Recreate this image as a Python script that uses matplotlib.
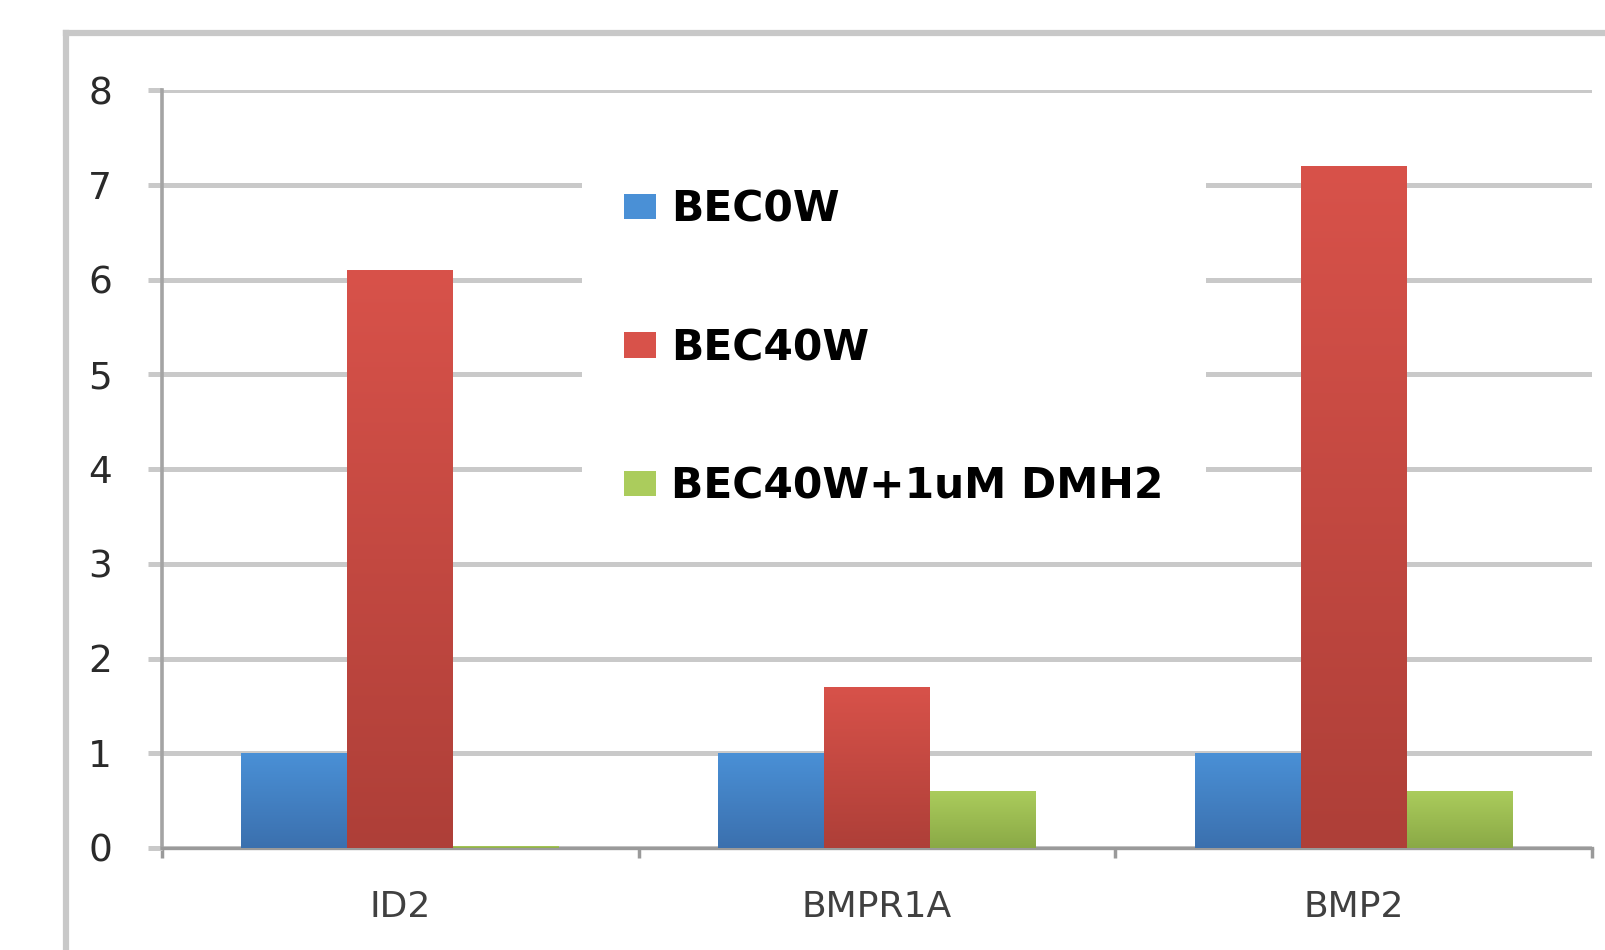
import numpy as np
import matplotlib.pyplot as plt
from matplotlib.lines import Line2D

genes = ['ID2', 'BMPR1A', 'BMP2']
series = ['BEC0W', 'BEC40W', 'BEC40W+1uM DMH2']
bec0w = [1.0, 1.0, 1.0]
bec40w = [6.1, 1.7, 7.2]
bec40w_dmh2 = [0.02, 0.6, 0.6]
yticks = [0, 1, 2, 3, 4, 5, 6, 7, 8]

# (top colour, bottom colour) for the vertical fill of each series
shades = [('#4a90d6', '#3b70ae'),
          ('#d8524a', '#ae3f38'),
          ('#abcc5c', '#8aa946')]

fig = plt.figure(figsize=(16.05, 9.5), dpi=100)
ax = fig.add_axes([162 / 1605, 102 / 950, 1430 / 1605, 758 / 950])

x = np.arange(len(genes)) + 0.5
w = 1 / 4.5
containers = []
for i, (vals, name) in enumerate(zip([bec0w, bec40w, bec40w_dmh2], series)):
    bars = ax.bar(x + (i - 1) * w, vals, w, color=shades[i][0], label=name,
                  linewidth=0, zorder=3)
    containers.append(bars)
    grad = np.linspace(0, 1, 256).reshape(-1, 1)
    cmap = plt.matplotlib.colors.LinearSegmentedColormap.from_list(
        'g%d' % i, [shades[i][1], shades[i][0]])
    for b in bars:
        im = ax.imshow(grad, cmap=cmap, aspect='auto', origin='lower',
                       extent=[b.get_x(), b.get_x() + b.get_width(), 0, b.get_height()],
                       zorder=3.5)
        im.set_clip_path(b)

ax.set_xlim(0, 3)
ax.set_ylim(0, 8)
ax.set_aspect('auto')

ax.set_yticks(yticks)
ax.set_yticklabels([str(v) for v in yticks])
ax.yaxis.grid(True, color='#c9c9c9', linewidth=3.6, zorder=0)
ax.tick_params(axis='y', direction='out', length=10, width=3.6, color='#c9c9c9',
               pad=26, labelsize=27, labelcolor='#2a2a2a')

ax.set_xticks([0, 1, 2, 3])
ax.set_xticklabels([])
ax.set_xticks(x, minor=True)
ax.set_xticklabels(genes, minor=True)
ax.tick_params(axis='x', which='major', direction='out', length=7, width=2.5,
               color='#9a9a9a')
ax.tick_params(axis='x', which='minor', length=0, pad=30, labelsize=26,
               labelcolor='#404040')

for s in ['top', 'right']:
    ax.spines[s].set_visible(False)
ax.spines['left'].set_color('#a4a4a4')
ax.spines['left'].set_linewidth(2.6)
ax.spines['bottom'].set_color('#9a9a9a')
ax.spines['bottom'].set_linewidth(2.4)

leg = ax.legend(handles=containers, loc='upper left',
                bbox_to_anchor=(0.2937, 0.926),
                prop={'weight': 'bold', 'size': 30.5}, frameon=True,
                facecolor='white', edgecolor='none', framealpha=1,
                handlelength=0.75, handleheight=0.55, handletextpad=0.35,
                labelspacing=2.28, borderpad=1.0, borderaxespad=0)
leg.set_zorder(2.5)

# chart-area border running off the right and bottom edges
fig.add_artist(Line2D([66 / 1605, 66 / 1605], [0, 1 - 33 / 950],
                      color='#c8c8c8', linewidth=4.5, transform=fig.transFigure))
fig.add_artist(Line2D([66 / 1605, 1], [1 - 33 / 950, 1 - 33 / 950],
                      color='#c8c8c8', linewidth=4.5, transform=fig.transFigure))

fig.savefig('out.png', dpi=100)
